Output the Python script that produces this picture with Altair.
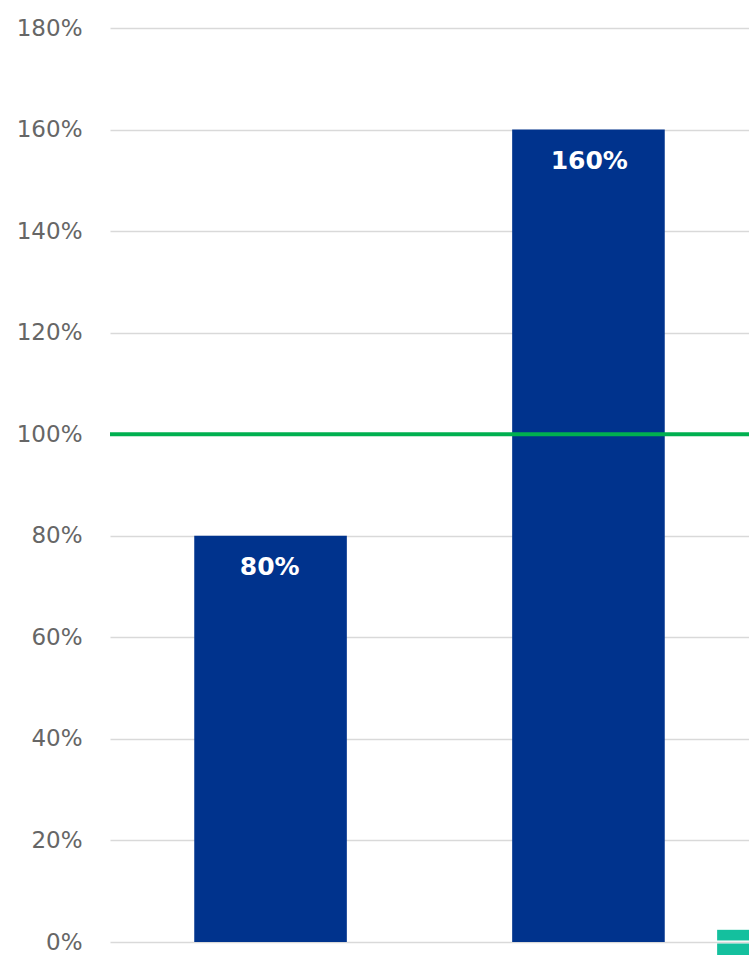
import altair as alt
import pandas as pd

# Data
categories = ["A", "B"]
values = [80, 160]            # percent
target = [100]                # green target line
teal_cats = ["A", "B", "C", "C"]
teal_low = [0, 0, 0.3, -2.6]   # partially visible teal element at the right edge
teal_high = [0, 0, 2.4, -0.3]
tick_values = [0, 20, 40, 60, 80, 100, 120, 140, 160, 180]

bars_df = pd.DataFrame({"cat": categories, "value": values,
                        "label": [f"{v}%" for v in values]})
target_df = pd.DataFrame({"target": target})
teal_df = pd.DataFrame({"cat": teal_cats, "lo": teal_low, "hi": teal_high})

FONT = "DejaVu Sans"
yscale = alt.Scale(domain=[0, 180], nice=False)

yaxis = alt.Axis(values=tick_values, labelExpr="datum.value + '%'",
                 title=None, domain=False, ticks=False, labelPadding=28,
                 labelFont=FONT, labelFontSize=23, labelColor="#666666",
                 gridColor="#d9d9d9", gridWidth=1.5)

xscale = alt.Scale(domain=categories, paddingInner=0.52, paddingOuter=0.265)

bars = alt.Chart(bars_df).mark_bar(color="#00338D").encode(
    x=alt.X("cat:N", scale=xscale, axis=None),
    y=alt.Y("value:Q", scale=yscale, axis=yaxis),
)

labels = alt.Chart(bars_df).mark_text(
    color="white", font=FONT, fontWeight="bold", fontSize=25,
    baseline="middle", dy=31
).encode(
    x=alt.X("cat:N", scale=xscale, axis=None),
    y=alt.Y("value:Q", scale=yscale),
    text="label:N",
)

teal = alt.Chart(teal_df).mark_bar(color="#14C09E", clip=False).encode(
    x=alt.X("cat:N", scale=alt.Scale(domain=["A", "B", "C"], paddingInner=0.895,
                                     paddingOuter=0), axis=None),
    y=alt.Y("hi:Q", scale=yscale),
    y2="lo:Q",
)

line = alt.Chart(target_df).mark_rule(color="#00B050", strokeWidth=4).encode(
    y=alt.Y("target:Q", scale=yscale),
)

chart = alt.layer(bars, labels, line, teal).resolve_scale(
    x="independent"
).properties(
    width=639, height=914,
    autosize=alt.AutoSizeParams(type="none"),
    padding={"left": 110, "top": 28, "right": 0, "bottom": 13},
    background="white",
).configure_view(stroke=None)

chart.save("out.html", embed_options={"renderer": "svg", "actions": False})
